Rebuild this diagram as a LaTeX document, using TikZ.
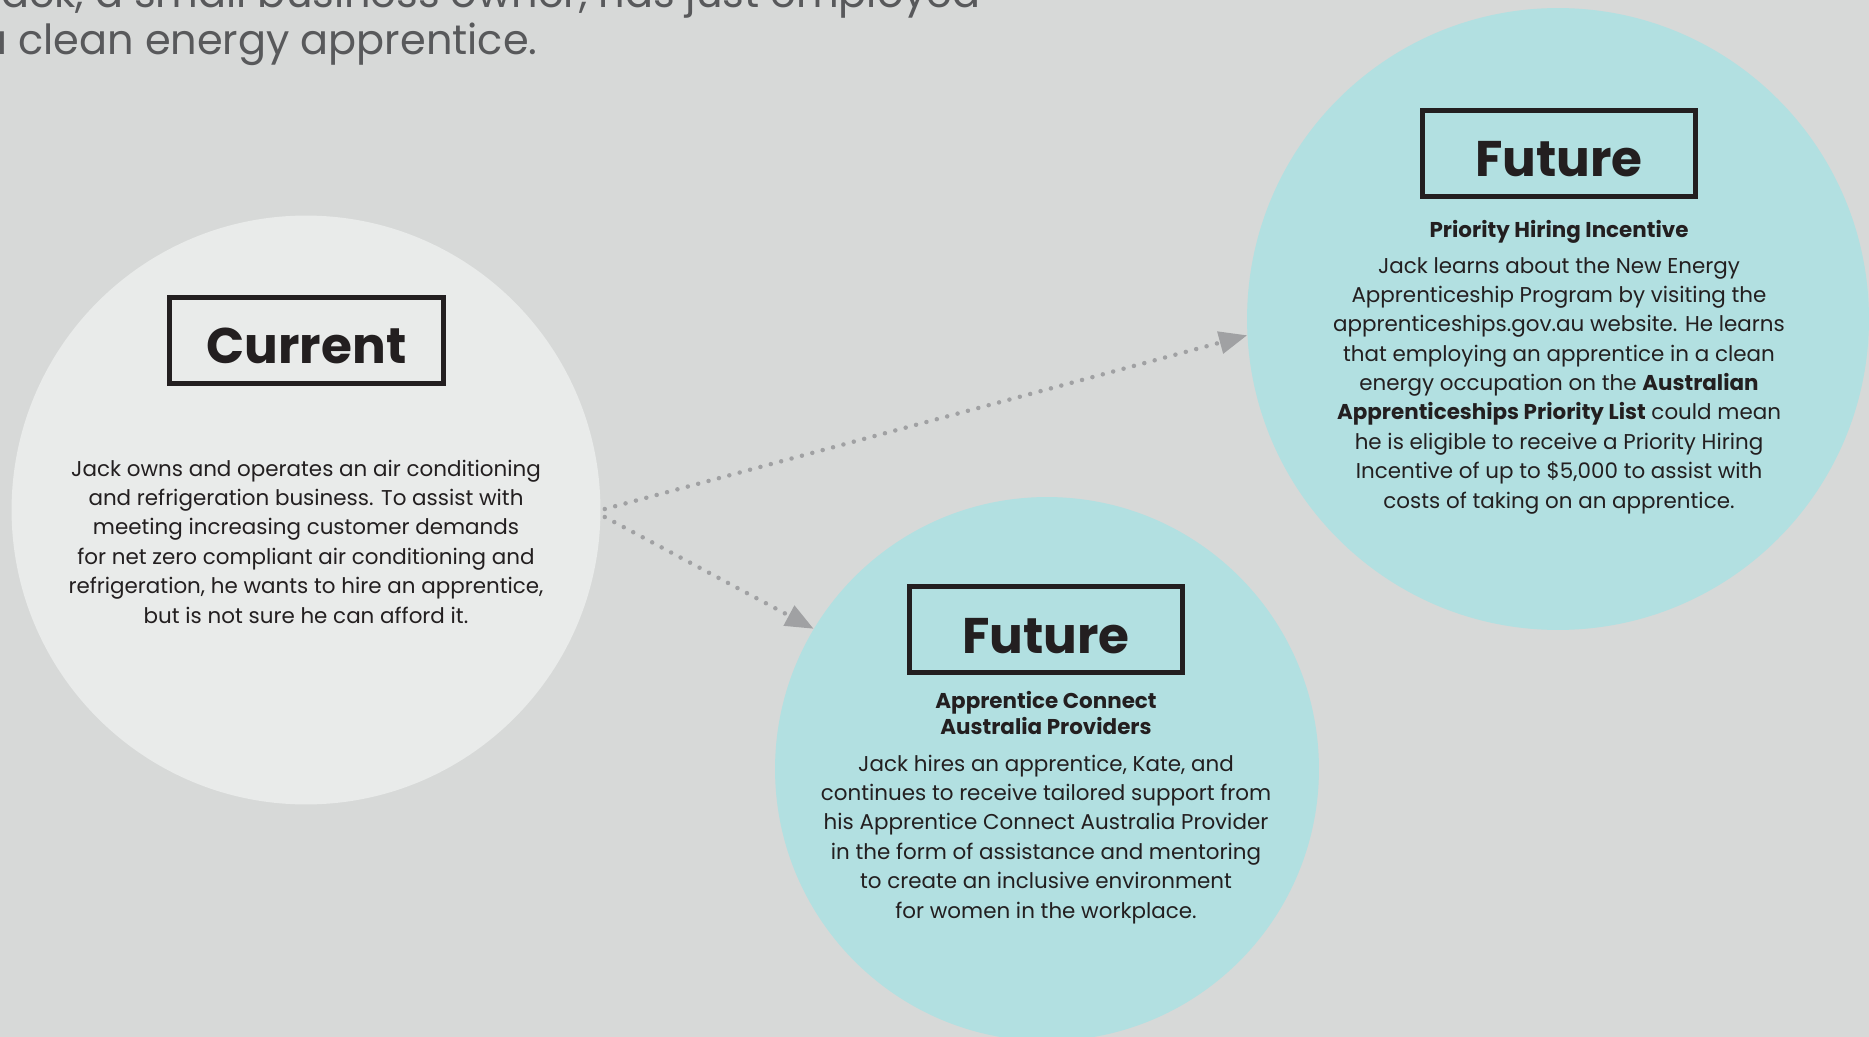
\documentclass[tikz,border=0pt]{standalone}
\usepackage{fontspec}
\setmainfont{Poppins}
\usepackage{pgf,tikz}
\usepackage{tkz-euclide}
\usepackage{xcolor}
\usetikzlibrary{arrows.meta, calc}

\definecolor{bgGrey}{HTML}{D7D9D8}
\definecolor{nowFill}{HTML}{E9EBEA}
\definecolor{futFill}{HTML}{B2E0E1}
\definecolor{ink}{HTML}{231F20}
\definecolor{linkGrey}{HTML}{A0A1A3}
\definecolor{introGrey}{HTML}{58595B}

\tikzset{
  bubble/.style={circle, inner sep=0pt},
  tagbox/.style={draw=ink, line width=0.1cm, minimum width=5.48cm, minimum height=1.72cm,
    inner sep=0pt, text height=0.94cm, text depth=0pt, text=ink,
    font=\fontsize{28.5}{30}\selectfont\bfseries},
  head/.style={align=center, anchor=base, text=ink, font=\fontsize{12.2}{14.8}\selectfont\bfseries},
  story/.style={align=center, anchor=base, text=ink, font=\fontsize{12.2}{16.7}\selectfont},
  link/.style={draw=linkGrey, line width=0.09cm, line cap=round, dash pattern=on 0pt off 0.215cm,
    -{Triangle[length=0.56cm, width=0.44cm]}}
}

\begin{document}
\begin{tikzpicture}[x=0.02cm, y=-0.02cm]

        \useasboundingbox (0,0) rectangle (1869,1037);
        \clip (0,0) rectangle (1869,1037);
        \fill[bgGrey] (0,0) rectangle (1869,1037);

        \tkzDefPoint(306,510){O_1}
        \tkzDefPoint(1558,319){O_2}
        \tkzDefPoint(1047,769){O_3}

        % intro, cut at the page edge (base = last line)
        \node[anchor=base west, align=left, text=introGrey,
              font=\fontsize{23.6}{27.3}\selectfont] (intro) at (-27,55)
              {Jack, a small business owner, has just employed\\a clean energy apprentice.};

        \node[bubble, fill=nowFill, minimum size=11.78cm] (now) at (O_1) {};
        \node[bubble, fill=futFill, minimum size=12.44cm] (hire) at (O_2) {};
        \node[bubble, fill=futFill, minimum size=10.88cm] (connect) at (O_3) {};

        \node[tagbox] (nowtag) at (306.5,340.5) {Current};
        \node[tagbox] (hiretag) at (1559,153.5) {Future};
        \node[tagbox] (connecttag) at (1046,629.5) {Future};

        \node[story] (nowtext) at (306,623)
              {Jack owns and operates an air conditioning\\
               and refrigeration business. To assist with\\
               meeting increasing customer demands\\
               for net zero compliant air conditioning and\\
               refrigeration, he wants to hire an apprentice,\\
               but is not sure he can afford it.};

        \node[head] (hirehead) at (1559,237) {Priority Hiring Incentive};
        \node[story] (hiretext) at (1559,508)
              {Jack learns about the New Energy\\
               Apprenticeship Program by visiting the\\
               apprenticeships.gov.au website. He learns\\
               that employing an apprentice in a clean\\
               energy occupation on the \textbf{Australian}\\
               \textbf{Apprenticeships Priority List} could mean\\
               he is eligible to receive a Priority Hiring\\
               Incentive of up to \$5,000 to assist with\\
               costs of taking on an apprentice.};

        \node[head] (connecthead) at (1046,734) {Apprentice Connect\\Australia Providers};
        \node[story] (connecttext) at (1046,918)
              {Jack hires an apprentice, Kate, and\\
               continues to receive tailored support from\\
               his Apprentice Connect Australia Provider\\
               in the form of assistance and mentoring\\
               to create an inclusive environment\\
               for women in the workplace.};

        % dotted links
        \draw[link] ($(now.east)+(4,-1)$) -- (hire.183);
        \draw[link] ($(now.east)+(4,7)$) -- (connect.149);
    \end{tikzpicture}
\end{document}
